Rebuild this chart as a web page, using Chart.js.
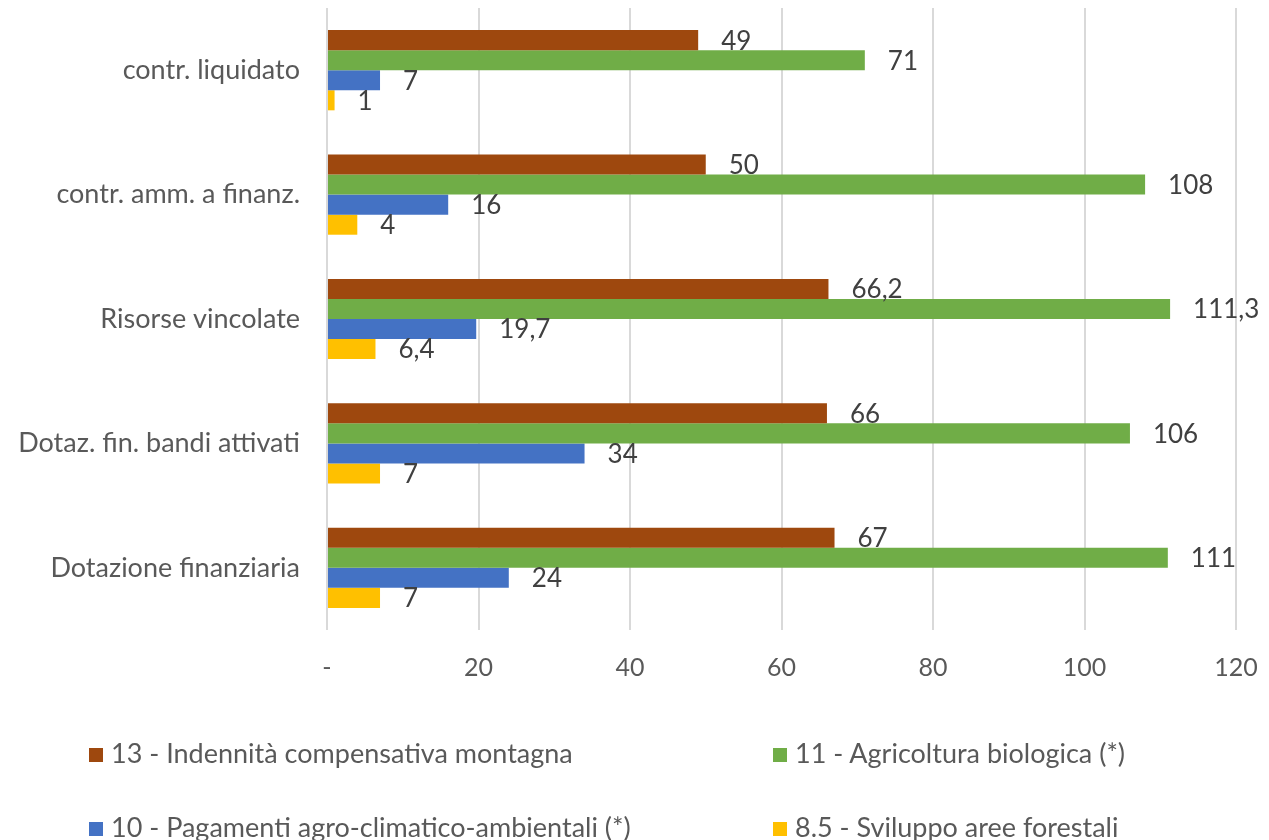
<!DOCTYPE html>
<html>
<head>
<meta charset="utf-8">
<script src="https://cdn.jsdelivr.net/npm/chart.js@4"></script>
<style>
  body { margin: 0; background: #fff; }
  #wrap { position: relative; width: 1269px; height: 840px; }
  .leg { position: absolute; font-family: Lato, sans-serif; font-size: 27px; color: #595959; white-space: nowrap; line-height: 30px; }
  .leg span.sq { display: inline-block; width: 14px; height: 14px; margin-right: 8px; vertical-align: 1px; }
</style>
</head>
<body>
<div id="wrap">
  <canvas id="bar-chart" width="1269" height="840"></canvas>
  <div id="legend"></div>
</div>
<script>
const barChart = document.querySelector("#bar-chart");

// categories, top to bottom
const categories = ["contr. liquidato", "contr. amm. a finanz.", "Risorse vincolate", "Dotaz. fin. bandi attivati", "Dotazione finanziaria"];

// series values (same order as categories)
const misura13 = [49, 50, 66.2, 66, 67];
const misura11 = [71, 108, 111.3, 106, 111];
const misura10 = [7, 16, 19.7, 34, 24];
const misura85 = [1, 4, 6.4, 7, 7];

const seriesNames = ["13 - Indennità compensativa montagna", "11 - Agricoltura biologica (*)", "10 - Pagamenti agro-climatico-ambientali (*)", "8.5 - Sviluppo aree forestali"];
const colors = ["#9E480E", "#70AD47", "#4472C4", "#FFC000"];

const tickValues = [0, 20, 40, 60, 80, 100, 120];

// draw the value next to each bar
const valueLabels = {
  id: "valueLabels",
  afterDatasetsDraw(chart) {
    const ctx = chart.ctx;
    ctx.save();
    ctx.font = "26px Lato, sans-serif";
    ctx.fillStyle = "#404040";
    ctx.textBaseline = "middle";
    ctx.textAlign = "left";
    chart.data.datasets.forEach((ds, i) => {
      chart.getDatasetMeta(i).data.forEach((bar, j) => {
        const txt = String(ds.data[j]).replace(".", ",");
        ctx.fillText(txt, bar.x + 23, bar.y + 1);
      });
    });
    ctx.restore();
  }
};

const allSeries = [misura13, misura11, misura10, misura85];

new Chart(barChart, {
  type: "bar",
  data: {
    labels: categories,
    datasets: allSeries.map((d, i) => ({
      label: seriesNames[i],
      data: d,
      backgroundColor: colors[i],
      borderWidth: 0
    }))
  },
  options: {
    indexAxis: "y",
    responsive: false,
    animation: false,
    layout: { padding: { top: 8, right: 33, left: 0, bottom: 0 } },
    datasets: {
      bar: { categoryPercentage: 0.645, barPercentage: 1 }
    },
    plugins: {
      legend: { display: false },
      tooltip: { enabled: false }
    },
    scales: {
      x: {
        min: 0,
        max: 120,
        afterBuildTicks: axis => { axis.ticks = tickValues.map(v => ({ value: v })); },
        afterFit: axis => { axis.height = 210; axis.paddingLeft = 0; axis.paddingRight = 0; },
        border: { display: false },
        grid: { color: "#d9d9d9", lineWidth: 2, drawTicks: false },
        ticks: {
          padding: 23,
          color: "#595959",
          font: { family: "Lato, sans-serif", size: 25 },
          callback: v => v === 0 ? "-" : v
        }
      },
      y: {
        afterFit: axis => { axis.width = 327; axis.paddingTop = 0; axis.paddingBottom = 0; },
        border: { display: false },
        grid: { display: false, drawTicks: false },
        ticks: {
          padding: 27,
          color: "#595959",
          font: { family: "Lato, sans-serif", size: 27 }
        }
      }
    }
  },
  plugins: [valueLabels]
});

// legend in two columns like the original
const legendPos = [[89, 738], [773, 738], [89, 812], [773, 812]];
const legendDiv = document.querySelector("#legend");
seriesNames.forEach((name, i) => {
  const el = document.createElement("div");
  el.className = "leg";
  el.style.left = legendPos[i][0] + "px";
  el.style.top = legendPos[i][1] + "px";
  el.innerHTML = '<span class="sq" style="background:' + colors[i] + '"></span>' + name;
  legendDiv.appendChild(el);
});
</script>
</body>
</html>
